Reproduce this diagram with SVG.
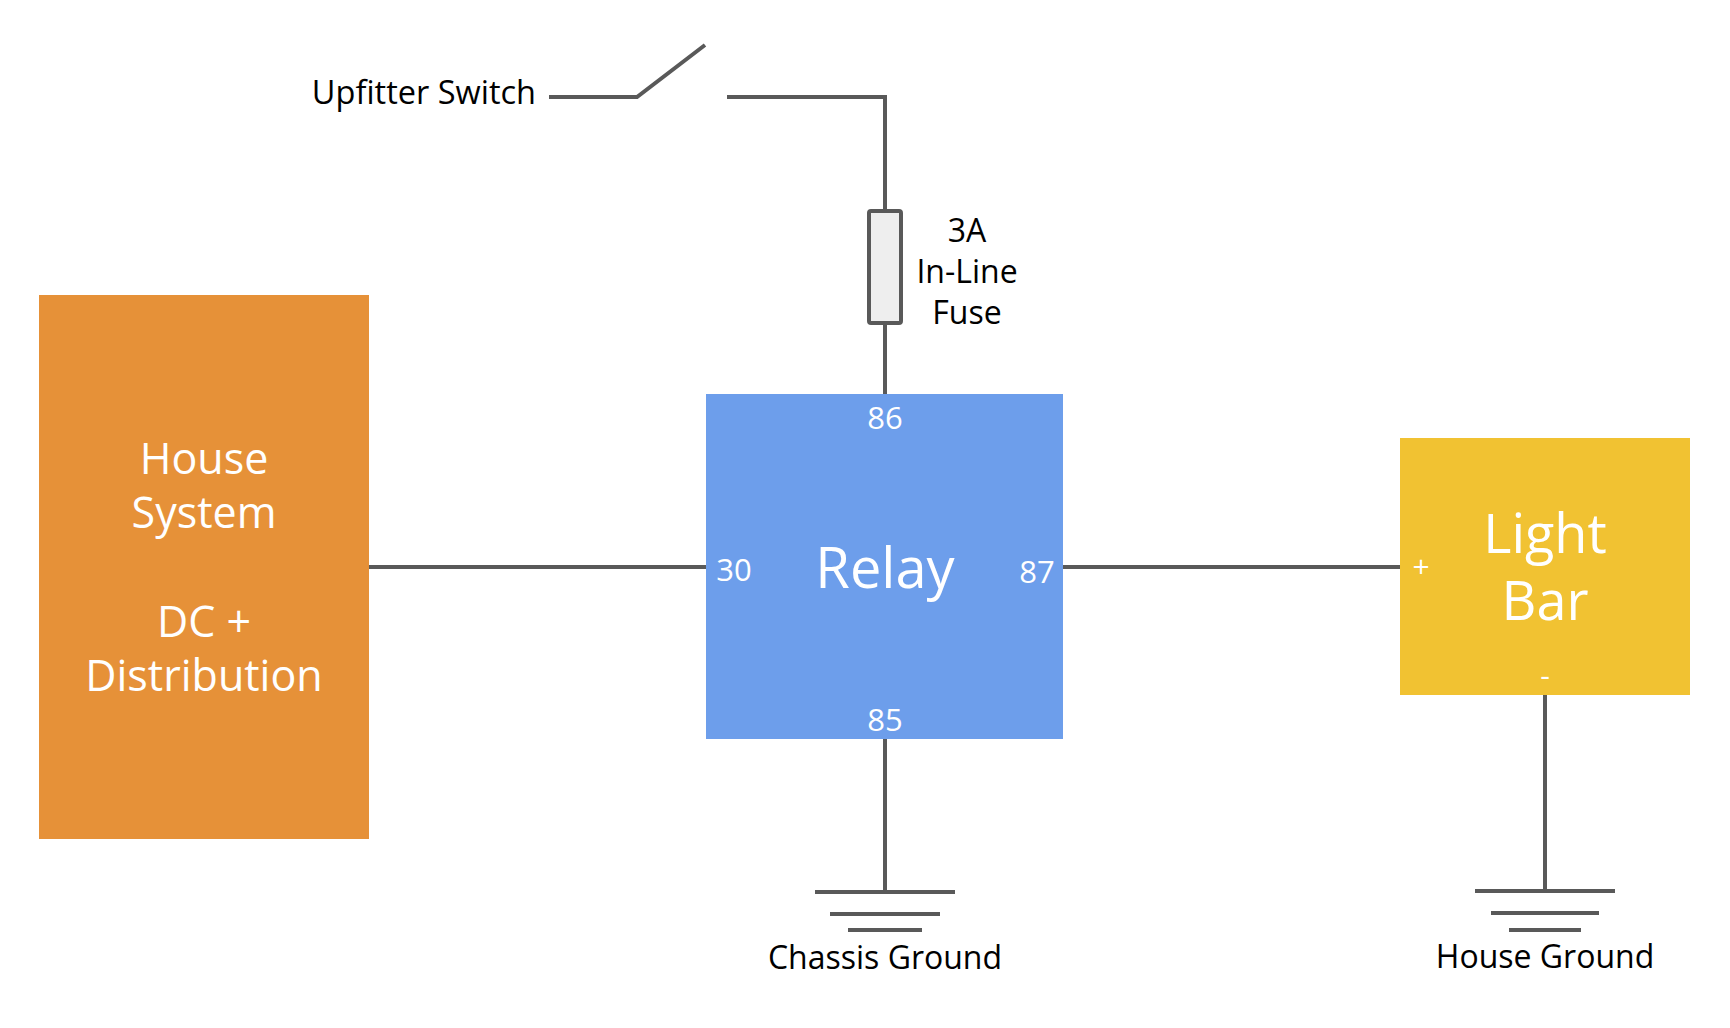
<svg xmlns="http://www.w3.org/2000/svg" width="1730" height="1028" viewBox="0 0 1730 1028">
<style>
.w{fill:none;stroke:#595959;stroke-width:4;stroke-linecap:butt}
.t{font-family:"Open Sans","Noto Sans","Liberation Sans",sans-serif;text-anchor:middle}
.wt{fill:#ffffff}
.bt{fill:#000000}
</style>
<rect width="1730" height="1028" fill="#ffffff"/>
<g id="connectors">
<line class="w" x1="369" y1="567" x2="706" y2="567"/>
<line class="w" x1="1063" y1="567" x2="1400" y2="567"/>
<polyline class="w" points="549,97 637,97 705,45"/>
<polyline class="w" points="727,97 885,97 885,211"/>
<line class="w" x1="885" y1="323" x2="885" y2="394"/>
<line class="w" x1="885" y1="739" x2="885" y2="892"/>
<line class="w" x1="1545" y1="695" x2="1545" y2="891"/>
</g>
<g id="house-system">
<rect x="39" y="295" width="330" height="544" fill="#E69138"/>
<text class="t wt" font-size="43"><tspan x="204" y="474">House</tspan><tspan x="204" y="528">System</tspan><tspan x="204" y="637">DC +</tspan><tspan x="204" y="691">Distribution</tspan></text>
</g>
<g id="relay">
<rect x="706" y="394" width="357" height="345" fill="#6D9EEB"/>
<text class="t wt" font-size="56" x="885" y="588">Relay</text>
<text class="t wt" font-size="31" x="885" y="429">86</text>
<text class="t wt" font-size="31" x="885" y="731">85</text>
<text class="t wt" font-size="31" x="734" y="581">30</text>
<text class="t wt" font-size="31" x="1037" y="583">87</text>
</g>
<g id="light-bar">
<rect x="1400" y="438" width="290" height="257" fill="#F1C232"/>
<text class="t wt" font-size="54"><tspan x="1545" y="553">Light</tspan><tspan x="1545" y="620">Bar</tspan></text>
<text class="t wt" font-size="30" x="1421" y="577">+</text>
<text class="t wt" font-size="30" x="1545" y="686">-</text>
</g>
<g id="upfitter-switch">
<text class="t bt" font-size="32.5" x="536" y="104" style="text-anchor:end">Upfitter Switch</text>
</g>
<g id="fuse">
<rect x="869" y="211" width="32" height="112" rx="2" fill="#EEEEEE" stroke="#595959" stroke-width="4"/>
<text class="t bt" font-size="32"><tspan x="967" y="242">3A</tspan><tspan x="967" y="283">In-Line</tspan><tspan x="967" y="324">Fuse</tspan></text>
</g>
<g id="chassis-ground">
<line class="w" x1="815" y1="892" x2="955" y2="892"/>
<line class="w" x1="830" y1="914" x2="940" y2="914"/>
<line class="w" x1="848" y1="930" x2="922" y2="930"/>
<text class="t bt" font-size="32" x="885" y="969">Chassis Ground</text>
</g>
<g id="house-ground">
<line class="w" x1="1475" y1="891" x2="1615" y2="891"/>
<line class="w" x1="1491" y1="913" x2="1599" y2="913"/>
<line class="w" x1="1509" y1="930" x2="1581" y2="930"/>
<text class="t bt" font-size="32" x="1545" y="968">House Ground</text>
</g>
</svg>
